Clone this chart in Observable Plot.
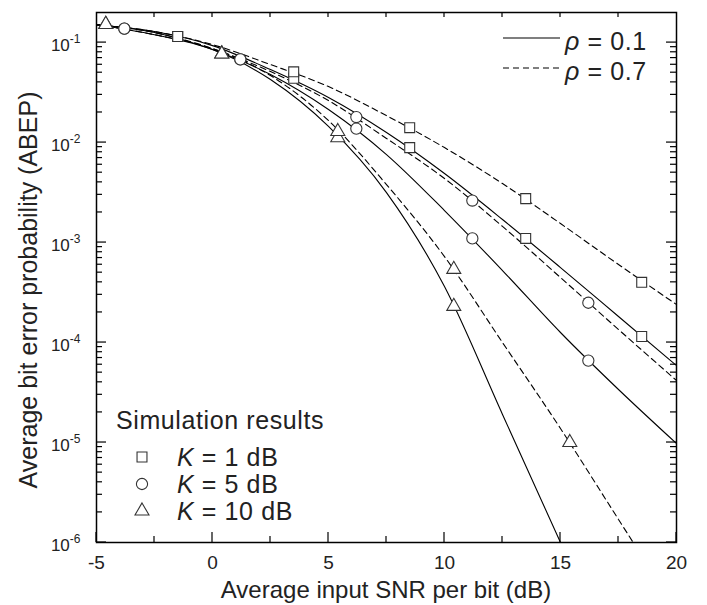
<!DOCTYPE html>
<html><head><meta charset="utf-8">
<script src="https://cdn.jsdelivr.net/npm/d3@7"></script>
<script src="https://cdn.jsdelivr.net/npm/@observablehq/plot@0.6"></script>
<style>
html,body{margin:0;padding:0;background:#fff;}
#chart svg{display:block;}
</style></head><body><div id="chart"></div>
<script>
// ---- data ----
const snr = [-5, -2.5, 0, 2.5, 5, 7.5, 10, 12.5, 15, 17.5, 20];
const abepK1Rho01 = [0.151, 0.129, 0.0933, 0.0537, 0.0282, 0.0126, 0.0049, 0.0017, 5.62e-4, 1.82e-4, 5.89e-5];
const abepK1Rho07 = [0.151, 0.129, 0.0955, 0.0603, 0.0363, 0.0186, 0.00891, 0.00389, 0.00155, 6.03e-4, 2.4e-4];
const abepK5Rho01 = [0.151, 0.126, 0.0851, 0.0479, 0.0214, 0.00759, 0.00209, 5.25e-4, 1.26e-4, 3.39e-5, 9.77e-6];
const abepK5Rho07 = [0.151, 0.126, 0.0871, 0.0513, 0.0263, 0.0110, 0.00437, 0.00145, 4.47e-4, 1.35e-4, 4.17e-5];
const abepK10Rho01 = [0.151, 0.120, 0.0851, 0.0427, 0.0145, 0.00316, 3.63e-4, 1.91e-5, 1.0e-6, null, null];
const abepK10Rho07 = [0.151, 0.120, 0.0871, 0.0468, 0.0166, 0.0038, 7.24e-4, 1.0e-4, 1.38e-5, 1.70e-6, 2.1e-7];

const simSnrK1 = [-1.5, 3.5, 8.5, 13.5, 18.5];
const simK1Rho01 = [0.115, 0.044, 0.0089, 0.0011, 1.15e-4];
const simK1Rho07 = [0.115, 0.051, 0.0141, 0.00275, 4.0e-4];
const simSnrK5 = [-3.8, 1.2, 6.2, 11.2, 16.2];
const simK5Rho01 = [0.138, 0.068, 0.0138, 0.0011, 6.6e-5];
const simK5Rho07 = [0.138, 0.068, 0.018, 0.00263, 2.5e-4];
const simSnrK10 = [-4.6, 0.4, 5.4, 10.4, 15.4];
const simK10Rho01 = [0.152, 0.077, 0.0112, 2.3e-4, null];
const simK10Rho07 = [0.152, 0.077, 0.0129, 5.4e-4, 1.0e-5];

const xTicks = [-5, 0, 5, 10, 15, 20];
const xTickLabels = ["-5", "0", "5", "10", "15", "20"];
const xMinorTicks = [-2.5, 2.5, 7.5, 12.5, 17.5];
const xTopTicks = [-2.5, 0, 2.5, 5, 7.5, 10, 12.5, 15, 17.5];
const yTicks = [1e-6, 1e-5, 1e-4, 1e-3, 1e-2, 1e-1];
const yTickLabels = ["10^-6", "10^-5", "10^-4", "10^-3", "10^-2", "10^-1"];
const yMinorMultipliers = [2, 3, 4, 5, 6, 7, 8, 9];

const FONT = '"Liberation Sans", Arial, Helvetica, sans-serif';
const INK = "#222";

// ---- build tables ----
function curveRows(ys, K, rho) {
  return snr.map((x, i) => ({snr: x, abep: ys[i], K, rho})).filter(d => d.abep != null);
}
function simRows(xs, ys, K, rho) {
  return xs.map((x, i) => ({snr: x, abep: ys[i], K, rho})).filter(d => d.abep != null);
}
const curves = [
  ...curveRows(abepK1Rho01, 1, 0.1), ...curveRows(abepK1Rho07, 1, 0.7),
  ...curveRows(abepK5Rho01, 5, 0.1), ...curveRows(abepK5Rho07, 5, 0.7),
  ...curveRows(abepK10Rho01, 10, 0.1), ...curveRows(abepK10Rho07, 10, 0.7)
];
const simK1 = [...simRows(simSnrK1, simK1Rho01, 1, 0.1), ...simRows(simSnrK1, simK1Rho07, 1, 0.7)];
const simK5 = [...simRows(simSnrK5, simK5Rho01, 5, 0.1), ...simRows(simSnrK5, simK5Rho07, 5, 0.7)];
const simK10 = [...simRows(simSnrK10, simK10Rho01, 10, 0.1), ...simRows(simSnrK10, simK10Rho07, 10, 0.7)];

const yMinorTicks = [];
for (let e = -6; e <= -1; e++) for (const m of yMinorMultipliers) {
  const v = m * Math.pow(10, e);
  if (v < 0.2) yMinorTicks.push(v);
}

const lineStyle = {x: "snr", y: "abep", stroke: "black", strokeWidth: 1.1, curve: "monotone-x", clip: true, z: d => d.K + "-" + d.rho};
const dotStyle = {x: "snr", y: "abep", fill: "white", stroke: "#333", strokeWidth: 1.1};

const chart = Plot.plot({
  width: 707,
  height: 605,
  marginLeft: 96,
  marginRight: 31,
  marginTop: 12,
  marginBottom: 63,
  style: {fontFamily: FONT, color: INK, background: "white"},
  x: {domain: [-5, 20]},
  y: {type: "log", domain: [1e-6, 0.2]},
  marks: [
    Plot.line(curves.filter(d => d.rho === 0.1), lineStyle),
    Plot.line(curves.filter(d => d.rho === 0.7), {...lineStyle, strokeDasharray: "6,4"}),
    Plot.dot(simK1, {...dotStyle, symbol: "square", r: 5.6}),
    Plot.dot(simK5, {...dotStyle, symbol: "circle", r: 5.6}),
    Plot.dot(simK10, {...dotStyle, symbol: "triangle", r: 5.2}),
    Plot.axisX(xTicks, {tickSize: 0, tickPadding: 13, fontSize: 19, label: null,
      tickFormat: d => xTickLabels[xTicks.indexOf(d)]}),
    Plot.axisY(yTicks, {tickSize: 0, tickPadding: 16, fontSize: 17, label: null, dy: 3,
      tickFormat: d => yTickLabels[yTicks.indexOf(d)]}),
    Plot.frame({stroke: "black", strokeWidth: 1.5})
  ]
});

const svg = d3.select(chart);
const sx = chart.scale("x"), sy = chart.scale("y");
const L = 96, R = 676, T = 12, B = 542;

// inward ticks, positioned by the plot's own scales
const tg = svg.append("g").attr("stroke", "black").attr("stroke-width", 1.2);
function vt(vals, y0, len) {
  for (const v of vals) { const px = sx.apply(v); tg.append("line").attr("x1", px).attr("x2", px).attr("y1", y0).attr("y2", y0 + len); }
}
function ht(vals, x0, len) {
  for (const v of vals) { const py = sy.apply(v); tg.append("line").attr("y1", py).attr("y2", py).attr("x1", x0).attr("x2", x0 + len); }
}
vt(xTicks, B, -10); vt(xMinorTicks, B, -6); vt(xTopTicks, T, 5);
ht(yTicks, L, 10); ht(yMinorTicks, L, 6); ht(yTicks, R, -10); ht(yMinorTicks, R, -6);

// superscript exponents
svg.selectAll('g[aria-label="y-axis tick label"] text').each(function () {
  const t = this.textContent;
  const parts = t.split("^");
  const s = d3.select(this);
  s.text(null);
  s.append("tspan").text(parts[0]);
  s.append("tspan").attr("font-size", 12).attr("dy", -8).text(parts[1]);
});

const g = svg.append("g").attr("font-family", FONT).attr("fill", INK);
// axis titles
g.append("text").attr("x", 386).attr("y", 598).attr("text-anchor", "middle")
  .attr("font-size", 24).text("Average input SNR per bit (dB)");
g.append("text").attr("transform", "translate(37,290) rotate(-90)").attr("text-anchor", "middle")
  .attr("font-size", 25).text("Average bit error probability (ABEP)");

// legend: rho
const rhoLegend = [{rho: "0.1", dash: null, y: 38}, {rho: "0.7", dash: "6,4", y: 68}];
for (const r of rhoLegend) {
  g.append("line").attr("x1", 503).attr("x2", 560).attr("y1", r.y).attr("y2", r.y)
    .attr("stroke", "black").attr("stroke-width", 1.1).attr("stroke-dasharray", r.dash);
  const t = g.append("text").attr("x", 565).attr("y", r.y + 11.5).attr("font-size", 25)
    .attr("text-anchor", "start").attr("letter-spacing", 0.6);
  t.append("tspan").attr("font-style", "italic").text("ρ");
  t.append("tspan").text(" = " + r.rho);
}

// legend: simulation
g.append("text").attr("x", 116).attr("y", 429).attr("font-size", 25).attr("text-anchor", "start")
  .attr("letter-spacing", 0.6).text("Simulation results");
const simLegend = [
  {sym: d3.symbolSquare, size: Math.PI * 5.6 * 5.6, label: "1", y: 457},
  {sym: d3.symbolCircle, size: Math.PI * 5.6 * 5.6, label: "5", y: 484},
  {sym: d3.symbolTriangle, size: Math.PI * 5.2 * 5.2, label: "10", y: 511}
];
for (const s of simLegend) {
  g.append("path").attr("d", d3.symbol(s.sym, s.size)()).attr("transform", `translate(142,${s.y})`)
    .attr("fill", "white").attr("stroke", "#333").attr("stroke-width", 1.1);
  const t = g.append("text").attr("x", 177).attr("y", s.y + 9).attr("font-size", 25)
    .attr("text-anchor", "start").attr("letter-spacing", 0.6);
  t.append("tspan").attr("font-style", "italic").text("K");
  t.append("tspan").text(" = " + s.label + " dB");
}

document.getElementById("chart").appendChild(chart);
</script>
</body></html>
